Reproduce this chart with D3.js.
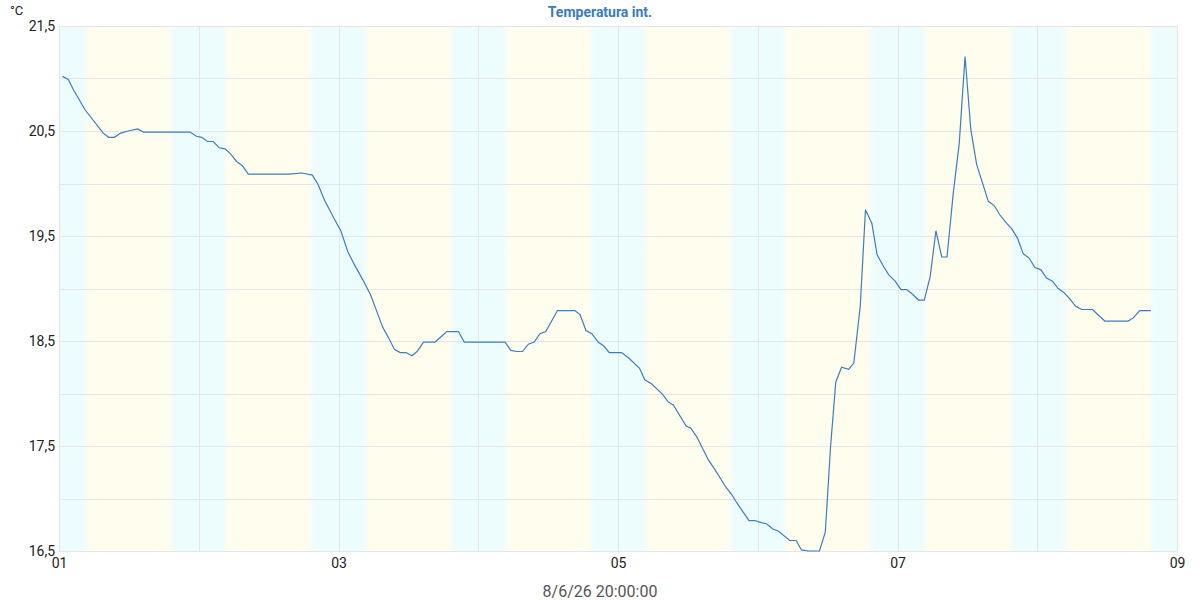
<!DOCTYPE html>
<html>
<head>
<meta charset="utf-8">
<script src="https://cdn.jsdelivr.net/npm/d3@7"></script>
<style>
  body { margin: 0; background: #fff; }
  text { font-family: Roboto, "Noto Sans", sans-serif; }
</style>
</head>
<body>
<div id="chart-area"></div>
<script>
// hours since 01 00:00, and inside temperature (°C)
var hours = [0.6, 1.6, 2.5, 4.5, 7.6, 8.5, 9.5, 10.6, 11.9, 13.5, 14.5, 22.5, 23.6, 24.5, 25.5, 26.5,
    27.5, 28.5, 29.5, 30.5, 31.5, 32.5, 39.4, 41.7, 43.5, 44.5, 45.6, 47.4, 48.4, 49.6, 50.8, 52.2,
    53.5, 55.6, 56.6, 57.6, 58.6, 59.6, 60.6, 61.5, 62.6, 64.6, 65.6, 66.6, 68.6, 69.6, 76.6, 77.6,
    78.6, 79.6, 80.6, 81.6, 82.6, 83.6, 85.6, 88.6, 89.5, 90.5, 91.5, 92.6, 93.6, 94.5, 96.6, 97.8,
    99.7, 100.6, 101.8, 103.7, 104.6, 105.5, 107.7, 108.5, 109.5, 111.5, 112.7, 113.6, 114.5, 115.5,
    116.4, 117.5, 118.5, 119.5, 120.6, 121.5, 122.6, 123.5, 125.5, 126.6, 127.5, 128.7, 130.6, 131.6,
    132.5, 133.4, 134.4, 135.6, 136.5, 137.6, 138.5, 139.6, 140.5, 141.6, 142.5, 143.6, 144.6, 145.6,
    146.5, 147.6, 148.6, 149.6, 150.6, 151.6, 152.5, 153.6, 154.6, 155.6, 156.6, 157.6, 159.6, 160.6,
    161.6, 162.6, 163.6, 164.6, 165.6, 166.6, 167.6, 168.6, 169.6, 170.6, 171.6, 172.6, 173.6, 174.6,
    175.6, 177.5, 178.6, 179.6, 183.6, 184.5, 185.6, 187.5];
var temps = [21.02, 20.99, 20.89, 20.70, 20.48, 20.44, 20.44, 20.48, 20.50, 20.52, 20.49, 20.49, 20.45, 20.44, 20.40, 20.40,
    20.34, 20.33, 20.28, 20.21, 20.17, 20.09, 20.09, 20.10, 20.08, 19.99, 19.84, 19.65, 19.55, 19.35, 19.22, 19.08,
    18.94, 18.63, 18.53, 18.42, 18.39, 18.39, 18.36, 18.40, 18.49, 18.49, 18.54, 18.59, 18.59, 18.49, 18.49, 18.41,
    18.40, 18.40, 18.47, 18.49, 18.57, 18.59, 18.79, 18.79, 18.75, 18.60, 18.57, 18.49, 18.45, 18.39, 18.39, 18.34,
    18.24, 18.13, 18.09, 17.99, 17.92, 17.89, 17.69, 17.67, 17.59, 17.37, 17.27, 17.19, 17.11, 17.04,
    16.96, 16.87, 16.79, 16.79, 16.77, 16.76, 16.71, 16.69, 16.60, 16.60, 16.51, 16.50, 16.50, 16.68,
    17.49, 18.11, 18.25, 18.23, 18.29, 18.83, 19.75, 19.62, 19.32, 19.21, 19.13, 19.07, 18.99, 18.99,
    18.95, 18.89, 18.89, 19.11, 19.55, 19.30, 19.30, 19.92, 20.38, 21.21, 20.51, 20.18, 19.83, 19.79,
    19.70, 19.63, 19.57, 19.48, 19.33, 19.29, 19.20, 19.18, 19.10, 19.07, 19.00, 18.96, 18.90, 18.83,
    18.80, 18.80, 18.74, 18.69, 18.69, 18.72, 18.79, 18.79];

// daylight (hour of day) for each of the 8 days
var sunrise = [4.6, 4.6, 4.7, 4.7, 4.7, 4.7, 4.7, 4.8];
var sunset = [19.3, 19.3, 19.4, 19.4, 19.4, 19.4, 19.5, 19.5];

var yTicks = [16.5, 17.5, 18.5, 19.5, 20.5, 21.5];
var yGrid = [16.5, 17, 17.5, 18, 18.5, 19, 19.5, 20, 20.5, 21, 21.5];

var chartTitle = "Temperatura int.";
var unitLabel = "°C";
var xTitle = "8/6/26 20:00:00";

var margin = { left: 59, right: 23, top: 26, bottom: 49 };
var width = 1200 - margin.left - margin.right,
    height = 600 - margin.top - margin.bottom;

var svg = d3.select("#chart-area").append("svg")
    .attr("width", 1200)
    .attr("height", 600);

var g = svg.append("g").attr("transform", "translate(" + margin.left + ", " + margin.top + ")");

var start = new Date(2026, 5, 1);
var end = new Date(2026, 5, 9);
function toDate(h) { return new Date(start.getTime() + h * 3600000); }

var x = d3.scaleTime().domain([start, end]).range([0, width]);
var y = d3.scaleLinear().domain([16.5, 21.5]).range([height, 0]);

var locale = d3.formatLocale({ decimal: ",", thousands: ".", grouping: [3], currency: ["", "€"] });
var fmt = locale.format(".1f");

// Day / night background
var nightColor = "#edfdfe", dayColor = "#fefdee";
var edges = [];
sunrise.forEach((r, i) => {
    edges.push({ x: x(toDate(i * 24 + r)), from: nightColor, to: dayColor });
    edges.push({ x: x(toDate(i * 24 + sunset[i])), from: dayColor, to: nightColor });
});
var grad = svg.append("defs").append("linearGradient")
    .attr("id", "daynight")
    .attr("gradientUnits", "userSpaceOnUse")
    .attr("x1", 0).attr("x2", width).attr("y1", 0).attr("y2", 0);
grad.append("stop").attr("offset", 0).attr("stop-color", nightColor);
edges.forEach((e) => {
    grad.append("stop").attr("offset", (e.x - 3) / width).attr("stop-color", e.from);
    grad.append("stop").attr("offset", (e.x + 3) / width).attr("stop-color", e.to);
});
grad.append("stop").attr("offset", 1).attr("stop-color", nightColor);

g.append("rect")
    .attr("width", width)
    .attr("height", height)
    .attr("fill", "url(#daynight)");

// Grid
g.selectAll(".hgrid").data(yGrid).enter().append("line")
    .attr("class", "hgrid")
    .attr("x1", 0).attr("x2", width)
    .attr("y1", (d) => Math.round(y(d)) + 0.5)
    .attr("y2", (d) => Math.round(y(d)) + 0.5)
    .attr("stroke", "#e4e6ea")
    .attr("stroke-width", 1);

g.selectAll(".vgrid").data(d3.timeDay.range(start, d3.timeDay.offset(end, 1))).enter().append("line")
    .attr("class", "vgrid")
    .attr("y1", 0).attr("y2", height)
    .attr("x1", (d) => Math.round(x(d)) + 0.5)
    .attr("x2", (d) => Math.round(x(d)) + 0.5)
    .attr("stroke", "#e4e6ea")
    .attr("stroke-width", 1);

// Axes
var leftAxis = d3.axisLeft(y).tickValues(yTicks).tickSize(0).tickPadding(4)
    .tickFormat((d) => fmt(d));
var yAxisG = g.append("g").attr("class", "y axis").call(leftAxis);
yAxisG.select(".domain").remove();
yAxisG.selectAll("text").attr("font-size", "14px").attr("fill", "#222")
    .attr("font-family", "Roboto, sans-serif");

var bottomAxis = d3.axisBottom(x).ticks(d3.timeDay.every(2)).tickSize(0).tickPadding(7)
    .tickFormat(d3.timeFormat("%d"));
var xAxisG = g.append("g").attr("class", "x axis")
    .attr("transform", "translate(0, " + height + ")")
    .call(bottomAxis);
xAxisG.select(".domain").remove();
xAxisG.selectAll("text").attr("font-size", "14px").attr("fill", "#222")
    .attr("font-family", "Roboto, sans-serif");

// Line
var line = d3.line()
    .x((d, i) => x(toDate(d)))
    .y((d, i) => y(temps[i]));
g.append("path")
    .datum(hours)
    .attr("fill", "none")
    .attr("stroke", "#3c7ec0")
    .attr("stroke-width", 1.2)
    .attr("d", line);

// Labels
svg.append("text")
    .attr("x", 600).attr("y", 17)
    .attr("text-anchor", "middle")
    .attr("font-size", "14px")
    .attr("font-weight", "bold")
    .style("fill", "#3a7bbd")
    .text(chartTitle);

svg.append("text")
    .attr("x", 10).attr("y", 15)
    .attr("font-size", "13px")
    .style("fill", "#222")
    .text(unitLabel);

svg.append("text")
    .attr("x", 600).attr("y", 597)
    .attr("text-anchor", "middle")
    .attr("font-size", "16px")
    .style("fill", "#555")
    .text(xTitle);
</script>
</body>
</html>
